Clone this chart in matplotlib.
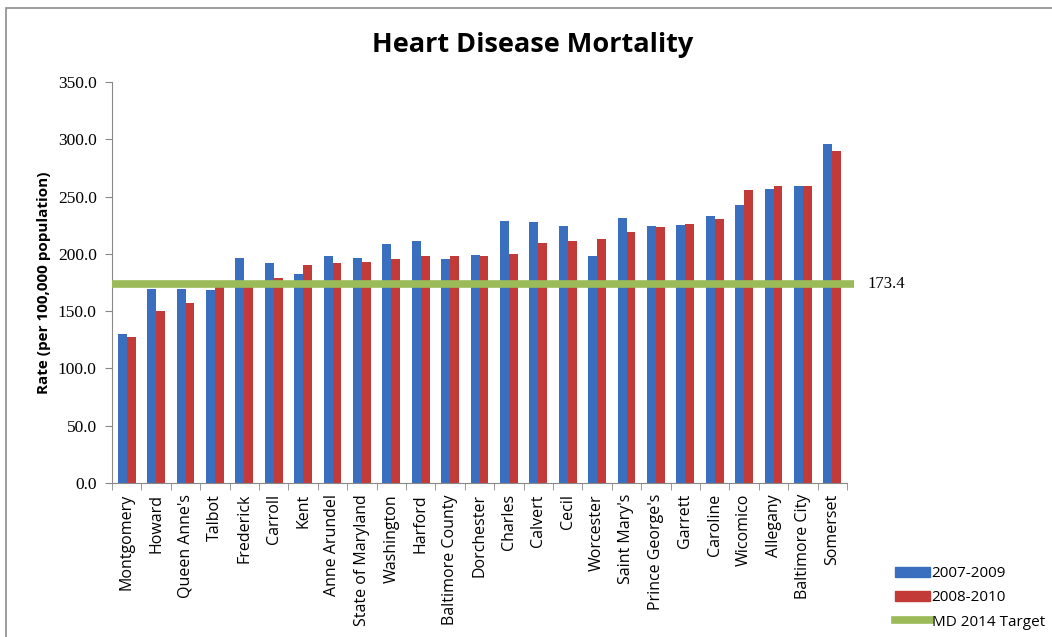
import matplotlib
matplotlib.use("Agg")
import matplotlib.pyplot as plt
import numpy as np
from matplotlib.patches import Patch, Rectangle
from matplotlib.lines import Line2D

counties = ["Montgomery", "Howard", "Queen Anne's", "Talbot", "Frederick", "Carroll", "Kent",
            "Anne Arundel", "State of Maryland", "Washington", "Harford", "Baltimore County",
            "Dorchester", "Charles", "Calvert", "Cecil", "Worcester", "Saint Mary's",
            "Prince George's", "Garrett", "Caroline", "Wicomico", "Allegany", "Baltimore City",
            "Somerset"]
rate_2007_2009 = [130.0, 169.5, 169.5, 168.6, 196.5, 191.8, 182.0, 198.2, 196.5, 208.2, 210.9,
                  195.6, 199.4, 228.4, 227.6, 224.6, 197.7, 231.4, 224.6, 225.5, 233.1, 242.8,
                  256.3, 259.2, 296.2]
rate_2008_2010 = [127.0, 150.0, 157.0, 171.0, 172.0, 179.0, 190.0, 191.8, 192.7, 195.6, 197.7,
                  197.7, 198.5, 200.3, 209.1, 210.9, 213.2, 218.8, 223.5, 226.4, 230.5, 255.4,
                  259.2, 259.2, 290.0]
target = 173.4
yticks = [0, 50, 100, 150, 200, 250, 300, 350]

fig = plt.figure(figsize=(10.52, 6.37), dpi=100)
ax = fig.add_axes([112/1052, 1-483/637, (847-112)/1052, (483-82)/637])

x = np.arange(len(counties))
w = 0.3
blue = "#3a6fbf"
red = "#c23b39"
ax.bar(x - w/2, rate_2007_2009, width=w, color=blue, label="2007-2009", zorder=2)
ax.bar(x + w/2, rate_2008_2010, width=w, color=red, label="2008-2010", zorder=2)
ax.plot([-0.5, len(counties) - 0.25], [target, target], color="#9bbb59", lw=5.5,
        solid_capstyle="butt", clip_on=False, zorder=3)
ax.text(len(counties) + 0.2, target, f"{target:.1f}", va="center", ha="left",
        fontsize=12, family="Liberation Serif")

ax.set_xlim(-0.5, len(counties) - 0.5)
ax.set_ylim(0, 350)
ax.set_yticks(yticks)
ax.set_yticklabels([f"{v:.1f}" for v in yticks], family="Liberation Serif", fontsize=12.5)
ax.set_xticks(x)
ax.set_xticklabels(counties, rotation=90, family="Open Sans", fontsize=11.5)
ax.set_xticks(np.arange(-0.5, len(counties), 1), minor=True)
ax.tick_params(axis="x", which="major", length=0, pad=8)
ax.tick_params(axis="x", which="minor", length=5, color="#888888", direction="out")
ax.tick_params(axis="y", length=5, color="#888888", direction="out", pad=6)
for s in ["top", "right"]:
    ax.spines[s].set_visible(False)
for s in ["left", "bottom"]:
    ax.spines[s].set_color("#888888")
ax.set_ylabel("Rate (per 100,000 population)", fontsize=11, fontweight="bold",
              family="Open Sans", labelpad=5)

fig.text(533/1052, 1-45/637, "Heart Disease Mortality", ha="center", va="center",
         fontsize=19.5, fontweight="bold", family="Open Sans")

handles = [Patch(color=blue), Patch(color=red),
           Line2D([0], [0], color="#9bbb59", lw=5.5)]
fig.legend(handles, ["2007-2009", "2008-2010", "MD 2014 Target"], loc="lower right",
           bbox_to_anchor=(0.999, 0.002), frameon=False, handlelength=2.3,
           handleheight=0.6, labelspacing=0.6, handletextpad=0.1, borderaxespad=0.0,
           prop={"family": "Open Sans", "size": 11})

fig.patches.append(Rectangle((6/1052, -0.1), 1.2, 1 - 8/637 + 0.1, transform=fig.transFigure,
                             fill=False, edgecolor="#8c8c8c", lw=1.2, clip_on=False))

fig.savefig("out.png", dpi=100)
